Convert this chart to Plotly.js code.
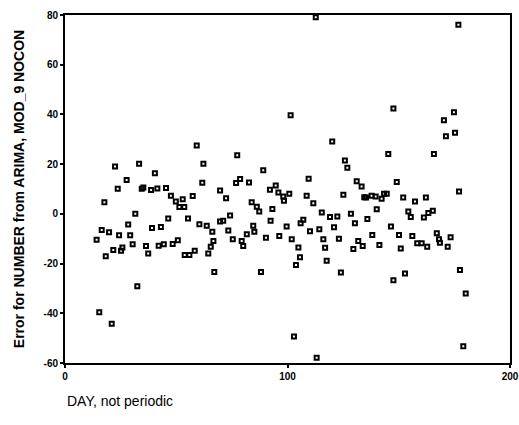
<!DOCTYPE html>
<html>
<head>
<meta charset="utf-8">
<script src="https://cdn.plot.ly/plotly-3.0.1.min.js"></script>
<style>html,body{margin:0;padding:0;background:#fff;}#chart{width:519px;height:425px;}</style>
</head>
<body>
<div id="chart"></div>
<script>
// DAY values (x) and residual errors (y)
const day = [
  14.2, 15.4, 16.5, 17.7, 18.3, 19.8, 21.0, 21.7, 22.5, 23.7,
  24.3, 25.2, 25.8, 27.7, 28.4, 29.3, 30.4, 31.6, 32.5, 33.3,
  34.5, 35.2, 36.4, 37.4, 38.7, 39.1, 40.4, 41.5, 42.1, 43.1,
  44.4, 45.4, 46.4, 47.6, 48.4, 49.8, 50.7, 51.4, 52.9, 53.6,
  53.8, 55.3, 55.9, 57.4, 58.3, 59.2, 60.4, 61.7, 62.2, 63.7,
  64.4, 65.5, 66.2, 66.7, 67.1, 69.7, 72.4, 69.7, 71.1, 73.4,
  74.2, 75.4, 76.9, 77.4, 78.7, 79.4, 80.1, 81.7, 82.7, 83.9,
  84.6, 85.1, 86.2, 87.3, 88.1, 89.1, 90.3, 92.1, 92.4, 93.2,
  94.7, 95.9, 96.3, 98.1, 98.4, 99.6, 100.8, 101.4, 101.9, 102.9,
  103.8, 104.9, 105.6, 105.9, 107.1, 108.6, 109.5, 110.1, 111.6, 112.7,
  113.1, 114.3, 115.4, 116.1, 116.9, 117.6, 119.1, 120.1, 120.9, 122.4,
  123.1, 124.0, 125.1, 125.8, 126.9, 128.5, 129.6, 130.3, 131.1, 131.8,
  133.3, 133.8, 134.5, 135.3, 135.9, 137.8, 138.1, 139.6, 140.1, 141.3,
  142.3, 143.4, 144.6, 145.3, 146.5, 147.6, 147.6, 149.1, 150.1, 150.9,
  152.0, 152.8, 154.3, 155.4, 156.1, 157.3, 158.3, 160.3, 161.3, 162.2,
  162.8, 163.3, 165.3, 165.8, 167.1, 168.1, 168.5, 170.3, 171.2, 172.0,
  173.3, 174.8, 175.3, 176.8, 177.1, 177.5, 179.0, 180.1
];
const errorVal = [
  -10.4, -39.6, -6.5, 4.7, -17.1, -7.4, -44.2, -14.5, 19.1, 10.1,
  -8.6, -14.8, -13.5, 13.6, -4.3, -8.6, -12.2, 0.0, -29.1, 20.2,
  10.1, 10.6, -12.9, -15.9, 9.6, -5.7, 16.3, 10.2, -12.8, -5.3,
  -12.2, 10.4, -1.9, 7.3, -12.1, 5.0, -10.6, 2.8, 5.9, 2.8,
  -16.6, -1.9, -16.6, 7.2, -14.8, 27.5, -4.2, 12.5, 20.2, -4.8,
  -15.9, -13.2, -7.2, -10.9, -23.4, 9.4, 6.3, -3.1, -2.8, -6.7,
  -0.7, -10.2, 12.4, 23.6, 14.0, -10.9, -12.9, -8.2, 12.6, 4.7,
  -4.8, -7.2, 2.9, 0.9, -23.4, 17.5, -9.6, 9.7, -2.8, 2.0,
  11.4, 8.6, -8.9, 7.0, 5.3, -5.1, 8.1, 39.7, -10.2, -49.3,
  -20.6, -13.5, -17.5, -3.8, -2.4, 7.3, 14.1, -7.0, 4.3, 79.1,
  -57.9, -6.2, 0.5, -10.2, -13.6, -18.9, -1.3, 29.1, -5.4, -1.1,
  -10.0, -23.6, 7.7, 21.5, 18.5, 0.0, -14.1, -3.8, 13.1, -10.9,
  11.0, -12.9, 6.7, 6.6, -2.1, 7.3, -8.5, 7.0, 1.9, -12.5,
  6.1, 8.1, 8.1, 24.1, -5.1, -26.7, 42.4, 12.8, -8.5, -13.9,
  6.6, -24.0, 0.9, -1.3, -8.9, 5.0, -11.8, -11.8, -1.5, 6.6,
  -13.2, 0.3, 1.3, 24.1, -7.8, -10.2, -11.6, 37.7, 31.2, -13.2,
  -9.4, 40.9, 32.6, 76.1, 9.0, -22.6, -53.3, -32.0
];
const xTicks = [0, 100, 200];
const yTicks = [-60, -40, -20, 0, 20, 40, 60, 80];
const yTitle = "Error for NUMBER from ARIMA, MOD_9 NOCON";
const xTitle = "DAY, not periodic";

const trace = {
  x: day, y: errorVal, type: "scatter", mode: "markers",
  marker: {symbol: "square-open", size: 4, color: "#000", line: {width: 2, color: "#000"}},
  hoverinfo: "none"
};
const fam = "Liberation Sans, Arial, sans-serif";
const tickFont = {family: fam, size: 10, color: "#000", weight: "bold"};
const layout = {
  width: 519, height: 425,
  margin: {l: 65, r: 9, t: 15, b: 62},
  paper_bgcolor: "#fff", plot_bgcolor: "#fff",
  showlegend: false,
  xaxis: {
    range: [0, 200], tickvals: xTicks, ticktext: xTicks.map(String),
    showgrid: false, zeroline: false, showline: true, linecolor: "#000", linewidth: 2,
    mirror: true, ticks: "outside", ticklen: 3, tickcolor: "#000", tickwidth: 2,
    tickfont: tickFont, fixedrange: true
  },
  yaxis: {
    range: [-60, 80], tickvals: yTicks, ticktext: yTicks.map(String),
    showgrid: false, zeroline: false, showline: true, linecolor: "#000", linewidth: 2,
    mirror: true, ticks: "outside", ticklen: 3, tickcolor: "#000", tickwidth: 2,
    tickfont: tickFont, fixedrange: true
  },
  annotations: [
    {
      text: xTitle, xref: "paper", yref: "paper", x: 0, y: -0.11, xanchor: "left", yanchor: "middle",
      showarrow: false, font: {family: fam, size: 14, color: "#000"}
    },
    {
      text: yTitle, xref: "paper", yref: "paper", x: -0.103, y: 0.5, xanchor: "center", yanchor: "middle",
      textangle: -90, showarrow: false, font: {family: fam, size: 14, color: "#000", weight: "bold"}
    }
  ]
};
Plotly.newPlot("chart", [trace], layout, {displayModeBar: false, staticPlot: true});
</script>
</body>
</html>
